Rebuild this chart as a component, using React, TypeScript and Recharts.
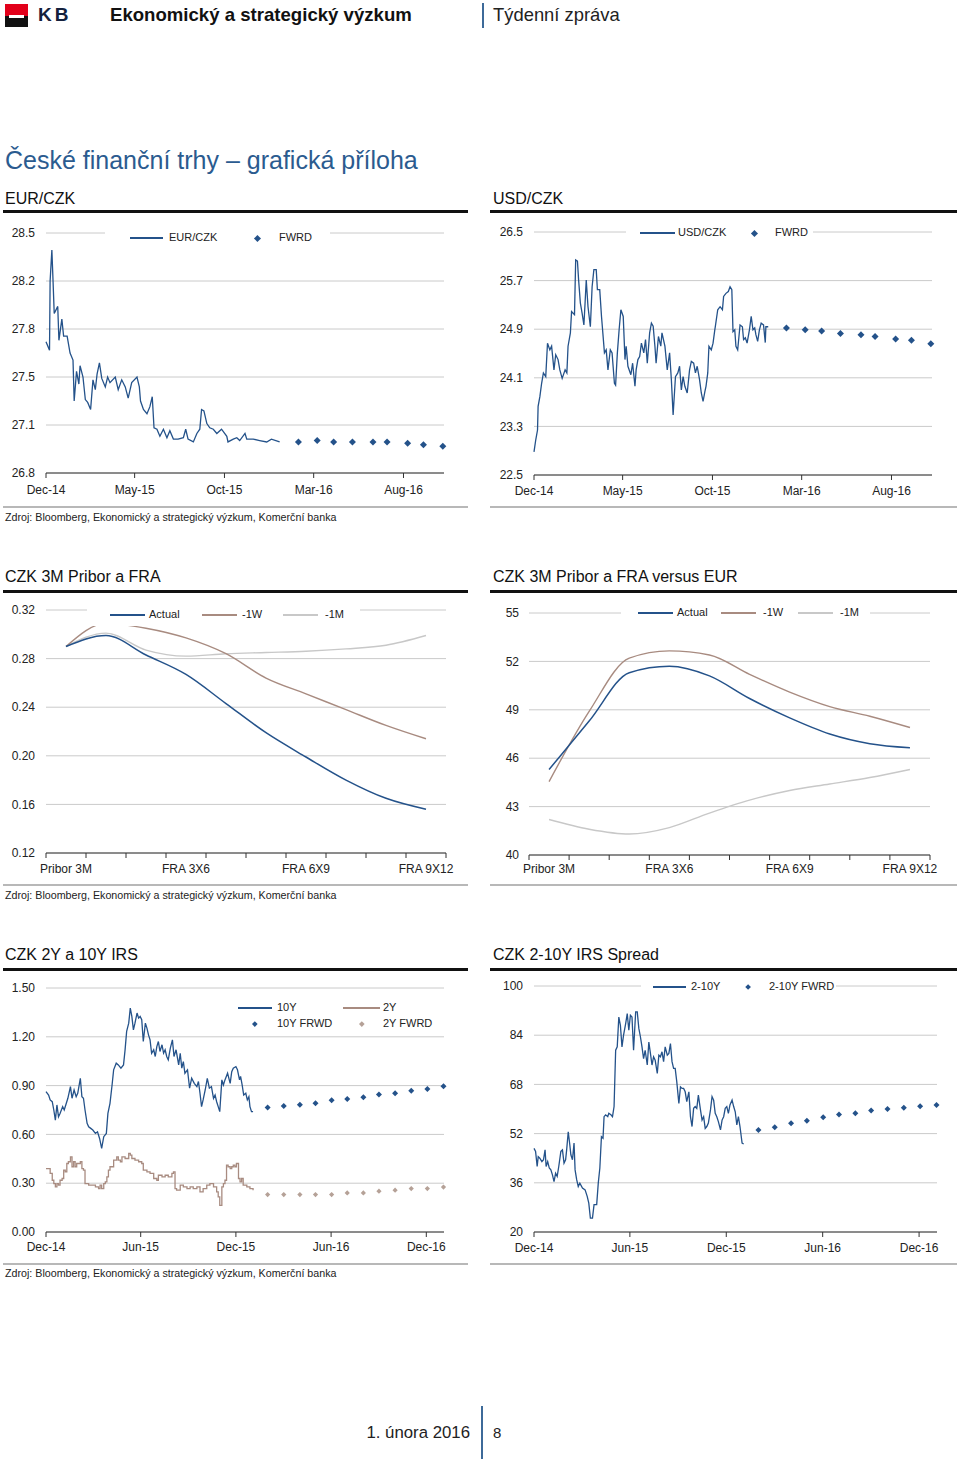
import React from "react";
import { ComposedChart, LineChart, Line, XAxis, YAxis, CartesianGrid } from "recharts";

type Pt = [number, number];

const NAVY = "#24528a";
const BROWN = "#a88b80";
const LIGHT = "#c8c8c8";
const GRID = "#cacaca";
const TAN = "#b5a197";
const INK = "#222";
const FONT = '"Liberation Sans", Arial, Helvetica, sans-serif';

// x = days since 1 Dec 2014
const fxTickDays = [0, 151, 304, 456, 609];
const fxTickLabels = ["Dec-14", "May-15", "Oct-15", "Mar-16", "Aug-16"];
const fxFwdDays = [430, 462, 490, 522, 557, 581, 616, 643, 676];

const eurTicks = [26.8, 27.14, 27.48, 27.82, 28.16, 28.5];
const eurczk: Pt[] = [
  [0, 27.73], [6, 27.67], [7, 28.16], [10, 28.38], [12, 28.16], [14, 27.93], [20, 27.98], [22, 27.74],
  [27, 27.89], [30, 27.77], [36, 27.77], [41, 27.65], [46, 27.6], [48, 27.31], [52, 27.52], [56, 27.43],
  [58, 27.56], [63, 27.48], [67, 27.32], [71, 27.3], [76, 27.25], [80, 27.46], [84, 27.39], [87, 27.5],
  [91, 27.58], [95, 27.47], [101, 27.41], [105, 27.48], [109, 27.44], [118, 27.48], [123, 27.39],
  [129, 27.46], [135, 27.41], [140, 27.33], [146, 27.44], [155, 27.48], [159, 27.41], [161, 27.31],
  [166, 27.25], [172, 27.22], [177, 27.27], [181, 27.34], [184, 27.12], [189, 27.11], [194, 27.06],
  [200, 27.11], [206, 27.05], [211, 27.1], [217, 27.04], [225, 27.04], [234, 27.05], [238, 27.11],
  [242, 27.04], [251, 27.02], [257, 27.08], [262, 27.11], [265, 27.25], [269, 27.24], [274, 27.15],
  [279, 27.12], [285, 27.11], [291, 27.08], [299, 27.11], [308, 27.06], [310, 27.02], [319, 27.04],
  [325, 27.05], [330, 27.03], [339, 27.08], [342, 27.04], [353, 27.04], [364, 27.03], [376, 27.02],
  [384, 27.04], [398, 27.02],
];
const eurczkFwd = [27.02, 27.03, 27.02, 27.02, 27.02, 27.02, 27.01, 27.0, 26.99];

const usdTicks = [22.5, 23.3, 24.1, 24.9, 25.7, 26.5];
const usdczk: Pt[] = [
  [0, 22.88], [3, 23.08], [6, 23.24], [7, 23.63], [10, 23.79], [13, 24.01], [16, 24.18], [20, 24.12],
  [23, 24.67], [27, 24.56], [30, 24.62], [34, 24.23], [37, 24.48], [41, 24.4], [44, 24.23], [48, 24.09],
  [53, 24.23], [56, 24.18], [58, 24.62], [62, 24.84], [64, 25.19], [69, 25.14], [71, 26.04], [74, 26.02],
  [76, 25.71], [79, 25.33], [82, 25.16], [85, 24.97], [87, 25.33], [89, 25.71], [92, 25.27], [96, 24.94],
  [99, 25.6], [102, 25.88], [106, 25.88], [108, 25.55], [112, 25.55], [115, 25.11], [120, 24.51],
  [123, 24.56], [126, 24.23], [130, 24.56], [133, 24.51], [137, 24.01], [139, 23.98], [142, 24.51],
  [145, 24.89], [148, 25.22], [152, 25.11], [155, 24.4], [157, 24.62], [160, 24.29], [165, 24.15],
  [168, 24.34], [172, 23.96], [174, 24.23], [177, 24.4], [180, 24.45], [183, 24.67], [187, 24.51],
  [190, 24.73], [193, 24.34], [197, 24.84], [200, 25.0], [203, 24.95], [206, 24.62], [208, 24.34],
  [212, 24.78], [216, 24.62], [218, 24.84], [223, 24.62], [227, 24.23], [231, 24.51], [234, 24.07],
  [237, 23.49], [241, 24.12], [245, 24.18], [248, 24.29], [251, 23.9], [254, 24.12], [257, 23.96],
  [261, 23.85], [265, 24.23], [268, 24.37], [272, 24.34], [275, 24.18], [278, 24.29], [282, 24.07],
  [285, 23.85], [288, 23.71], [291, 23.87], [293, 23.96], [296, 24.18], [298, 24.62], [302, 24.56],
  [305, 24.67], [308, 24.89], [309, 24.95], [313, 25.22], [317, 25.27], [321, 25.22], [323, 25.44],
  [327, 25.49], [331, 25.52], [334, 25.6], [337, 25.55], [339, 24.86], [342, 24.89], [344, 24.62],
  [347, 24.56], [351, 24.97], [355, 24.94], [357, 24.73], [360, 24.76], [363, 24.67], [367, 24.89],
  [370, 25.11], [373, 24.89], [376, 24.92], [378, 24.81], [381, 24.7], [384, 24.89], [387, 25.0],
  [391, 24.97], [394, 24.68], [395, 24.94], [399, 24.94],
];
const usdczkFwd = [24.92, 24.89, 24.87, 24.83, 24.81, 24.78, 24.74, 24.72, 24.66];

const fraCategories = [
  "Pribor 3M", "FRA 1X4", "FRA 2X5", "FRA 3X6", "FRA 4X7",
  "FRA 5X8", "FRA 6X9", "FRA 7X10", "FRA 8X11", "FRA 9X12",
];
const fraLabelIdx = [0, 3, 6, 9];
const fraTicks = [0.12, 0.16, 0.2, 0.24, 0.28, 0.32];
const fraActual = [0.29, 0.299, 0.283, 0.267, 0.243, 0.219, 0.199, 0.18, 0.165, 0.156];
const fra1W = [0.29, 0.309, 0.305, 0.297, 0.284, 0.264, 0.251, 0.238, 0.225, 0.214];
const fra1M = [0.29, 0.301, 0.287, 0.282, 0.284, 0.285, 0.286, 0.288, 0.291, 0.299];

const eurDiffTicks = [40, 43, 46, 49, 52, 55];
const eurDiffActual = [45.3, 48.3, 51.3, 51.7, 51.1, 49.7, 48.5, 47.5, 46.9, 46.65];
const eurDiff1W = [44.55, 48.9, 52.2, 52.65, 52.4, 51.2, 50.1, 49.2, 48.6, 47.9];
const eurDiff1M = [42.2, 41.6, 41.3, 41.7, 42.6, 43.4, 44.0, 44.4, 44.8, 45.3];

const irsTickDays = [0, 182, 365, 548, 731];
const irsTickLabels = ["Dec-14", "Jun-15", "Dec-15", "Jun-16", "Dec-16"];
const irsFwdDays = [426, 457, 488, 518, 549, 579, 610, 640, 671, 702, 733, 764];

const irsTicks = [0, 0.3, 0.6, 0.9, 1.2, 1.5];
const irs10y: Pt[] = [
  [0, 0.863], [5, 0.842], [8, 0.812], [12, 0.801], [15, 0.75], [18, 0.688], [21, 0.781], [24, 0.709],
  [27, 0.729], [32, 0.771], [35, 0.75], [38, 0.781], [42, 0.822], [47, 0.894], [50, 0.822], [54, 0.873],
  [58, 0.832], [61, 0.853], [66, 0.945], [69, 0.832], [72, 0.822], [75, 0.75], [79, 0.668], [82, 0.647],
  [86, 0.637], [90, 0.627], [95, 0.606], [99, 0.616], [103, 0.575], [107, 0.514], [111, 0.586],
  [116, 0.606], [119, 0.729], [123, 0.791], [127, 0.904], [130, 0.997], [135, 1.038], [139, 1.027],
  [144, 1.007], [149, 1.027], [152, 1.12], [155, 1.233], [159, 1.284], [162, 1.377], [165, 1.325],
  [168, 1.243], [171, 1.284], [175, 1.346], [178, 1.315], [181, 1.325], [184, 1.305], [187, 1.171],
  [191, 1.284], [194, 1.253], [197, 1.212], [200, 1.181], [203, 1.099], [207, 1.12], [210, 1.079],
  [213, 1.14], [216, 1.171], [219, 1.11], [223, 1.151], [226, 1.099], [229, 1.12], [232, 1.079],
  [235, 1.058], [239, 1.13], [243, 1.181], [246, 1.079], [250, 1.12], [255, 1.027], [258, 1.099],
  [261, 1.007], [264, 1.048], [267, 0.976], [272, 0.997], [276, 0.884], [280, 0.945], [285, 0.914],
  [290, 0.894], [293, 0.925], [296, 0.853], [299, 0.771], [302, 0.812], [306, 0.873], [310, 0.945],
  [314, 0.884], [318, 0.894], [322, 0.822], [325, 0.842], [328, 0.801], [331, 0.771], [334, 0.74],
  [338, 0.935], [341, 0.904], [344, 0.935], [349, 0.976], [354, 0.914], [357, 0.986], [360, 1.007],
  [365, 1.017], [368, 0.997], [372, 0.935], [374, 0.956], [377, 0.904], [380, 0.842], [384, 0.853],
  [387, 0.812], [390, 0.832], [392, 0.771], [395, 0.74], [398, 0.74],
];
const irs2y: Pt[] = [
  [0, 0.39], [5, 0.39], [8, 0.36], [12, 0.318], [15, 0.298], [18, 0.277], [21, 0.298], [24, 0.288],
  [27, 0.318], [31, 0.329], [34, 0.38], [37, 0.37], [40, 0.421], [43, 0.432], [47, 0.462], [50, 0.401],
  [53, 0.432], [56, 0.401], [59, 0.421], [63, 0.421], [66, 0.432], [69, 0.39], [72, 0.38], [75, 0.298],
  [82, 0.288], [88, 0.288], [95, 0.277], [101, 0.267], [104, 0.288], [107, 0.267], [111, 0.298],
  [114, 0.308], [117, 0.339], [120, 0.38], [123, 0.401], [130, 0.442], [136, 0.462], [139, 0.442],
  [143, 0.432], [146, 0.462], [152, 0.452], [159, 0.483], [162, 0.473], [165, 0.452], [171, 0.442],
  [178, 0.432], [184, 0.421], [187, 0.38], [194, 0.37], [200, 0.36], [207, 0.329], [213, 0.318],
  [216, 0.349], [223, 0.339], [229, 0.349], [235, 0.339], [242, 0.36], [245, 0.37], [248, 0.267],
  [251, 0.257], [258, 0.288], [264, 0.277], [271, 0.267], [277, 0.277], [283, 0.267], [290, 0.277],
  [296, 0.247], [302, 0.267], [309, 0.288], [315, 0.298], [322, 0.277], [328, 0.247], [331, 0.216],
  [334, 0.164], [338, 0.277], [341, 0.298], [344, 0.318], [347, 0.411], [350, 0.401], [354, 0.39],
  [357, 0.401], [360, 0.411], [363, 0.401], [366, 0.421], [370, 0.329], [373, 0.308], [376, 0.329],
  [379, 0.288], [386, 0.277], [392, 0.267], [398, 0.257],
];
const irs10yFwd = [0.766, 0.775, 0.783, 0.791, 0.81, 0.818, 0.828, 0.845, 0.853, 0.869, 0.879, 0.896];
const irs2yFwd = [0.23, 0.23, 0.23, 0.23, 0.23, 0.24, 0.24, 0.251, 0.257, 0.267, 0.267, 0.276];

const spreadTicks = [20, 36, 52, 68, 84, 100];
const spread: Pt[] = [
  [0, 47.2], [3, 46.2], [6, 41.3], [8, 44.5], [11, 44.0], [15, 42.9], [18, 43.5], [21, 46.7], [23, 41.3],
  [26, 42.9], [29, 40.8], [32, 40.2], [35, 38.6], [38, 36.4], [41, 39.1], [44, 38.1], [47, 41.3],
  [51, 46.2], [54, 46.7], [57, 42.4], [60, 43.5], [62, 46.7], [65, 52.6], [68, 48.3], [70, 45.1],
  [73, 43.5], [76, 48.9], [78, 40.2], [81, 37.0], [84, 34.8], [87, 35.9], [92, 34.3], [97, 33.7],
  [101, 31.6], [104, 29.4], [107, 24.5], [111, 24.5], [114, 28.9], [119, 28.9], [122, 35.9], [125, 40.8],
  [128, 51.0], [131, 50.5], [133, 57.5], [136, 58.1], [140, 57.5], [142, 58.6], [146, 58.1], [149, 57.5],
  [152, 60.8], [155, 79.1], [158, 80.2], [161, 89.9], [164, 87.2], [167, 80.2], [170, 84.0], [174, 87.8],
  [177, 91.0], [180, 85.6], [183, 90.5], [186, 89.9], [189, 79.1], [193, 91.6], [196, 91.6], [199, 86.2],
  [202, 83.5], [205, 80.2], [208, 76.4], [211, 79.1], [215, 74.3], [218, 81.8], [221, 78.1], [224, 74.3],
  [227, 77.0], [230, 75.9], [234, 71.6], [237, 77.5], [240, 77.0], [243, 78.6], [246, 75.4], [249, 80.2],
  [253, 77.5], [256, 78.1], [259, 81.3], [262, 75.4], [265, 73.2], [268, 73.2], [271, 68.9], [275, 61.8],
  [278, 67.2], [281, 66.7], [284, 66.7], [287, 65.6], [290, 62.4], [294, 65.6], [297, 57.5], [300, 54.3],
  [303, 60.2], [306, 60.8], [309, 60.2], [312, 64.5], [316, 59.7], [319, 56.4], [322, 57.5], [325, 53.7],
  [328, 54.3], [331, 55.4], [335, 59.7], [338, 64.0], [341, 62.9], [344, 58.6], [347, 57.5], [350, 55.9],
  [354, 53.2], [357, 56.4], [360, 57.5], [363, 60.2], [366, 60.8], [369, 58.6], [372, 61.3], [376, 62.9],
  [379, 60.8], [382, 59.1], [385, 54.8], [388, 57.5], [391, 54.3], [395, 48.9], [398, 48.6],
];
const spreadFwd = [53.2, 54.1, 55.4, 56.2, 57.3, 58.2, 58.6, 59.5, 60.0, 60.4, 60.9, 61.3];

const SOURCE = "Zdroj: Bloomberg, Ekonomický a strategický výzkum, Komerční banka";

const zip = (xs: number[], ys: number[]): Pt[] => xs.map((x, i) => [x, ys[i]]);

function mergeRows(series: Record<string, Pt[]>) {
  const map = new Map<number, any>();
  Object.entries(series).forEach(([key, pts]) => {
    pts.forEach(([d, v]) => {
      const row = map.get(d) ?? { d };
      row[key] = v;
      map.set(d, row);
    });
  });
  return Array.from(map.values()).sort((a, b) => a.d - b.d);
}

function diamondDot(color: string, r: number) {
  return (p: any) => {
    const k = `dm-${p.index}`;
    if (p.value == null || p.cx == null || p.cy == null || !isFinite(p.cy)) return <g key={k} />;
    const { cx, cy } = p;
    return (
      <path key={k} d={`M${cx},${cy - r}L${cx + r},${cy}L${cx},${cy + r}L${cx - r},${cy}Z`} fill={color} />
    );
  };
}

interface LineSpec { key: string; color: string; type?: any }
interface DotSpec { key: string; color: string; r: number }

function TimeChart(props: {
  box: number[];
  margin: any;
  yWidth: number;
  yTickMargin: number;
  yTicks: number[];
  yDigits: number;
  xDomain: number[];
  xTicks: number[];
  xLabels: string[];
  xTickMargin: number;
  rows: any[];
  lines: LineSpec[];
  dots: DotSpec[];
}) {
  const { box, yTicks, xTicks, xLabels } = props;
  return (
    <div style={{ position: "absolute", left: box[0], top: box[1] }}>
      <ComposedChart width={box[2]} height={box[3]} data={props.rows} margin={props.margin}>
        <CartesianGrid vertical={false} stroke={GRID} />
        <XAxis
          type="number"
          dataKey="d"
          domain={props.xDomain}
          ticks={xTicks}
          interval={0}
          tickFormatter={(v: number) => xLabels[xTicks.indexOf(v)] ?? ""}
          axisLine={{ stroke: "#333" }}
          tickLine={{ stroke: "#333" }}
          tickSize={5}
          tickMargin={props.xTickMargin}
          tick={{ fontSize: 12, fill: INK }}
          height={30}
        />
        <YAxis
          type="number"
          domain={[yTicks[0], yTicks[yTicks.length - 1]]}
          ticks={yTicks}
          interval={0}
          tickFormatter={(v: number) => v.toFixed(props.yDigits)}
          axisLine={false}
          tickLine={false}
          tickSize={0}
          tickMargin={props.yTickMargin}
          width={props.yWidth}
          tick={{ fontSize: 12, fill: INK }}
        />
        {props.lines.map((l) => (
          <Line
            key={l.key}
            dataKey={l.key}
            type={l.type ?? "linear"}
            stroke={l.color}
            strokeWidth={1.3}
            dot={false}
            activeDot={false}
            connectNulls
            isAnimationActive={false}
          />
        ))}
        {props.dots.map((s) => (
          <Line
            key={s.key}
            dataKey={s.key}
            stroke="none"
            dot={diamondDot(s.color, s.r)}
            activeDot={false}
            isAnimationActive={false}
          />
        ))}
      </ComposedChart>
    </div>
  );
}

function FraChart(props: {
  box: number[];
  margin: any;
  yWidth: number;
  yTickMargin: number;
  yTicks: number[];
  yDigits: number;
  labelMargin: number;
  actual: number[];
  w1: number[];
  m1: number[];
}) {
  const { box, yTicks } = props;
  const rows = fraCategories.map((c, i) => ({
    x: i + 0.5,
    c,
    actual: props.actual[i],
    w1: props.w1[i],
    m1: props.m1[i],
  }));
  const bounds = fraCategories.map((_, i) => i).concat([fraCategories.length]);
  return (
    <div style={{ position: "absolute", left: box[0], top: box[1] }}>
      <LineChart width={box[2]} height={box[3]} data={rows} margin={props.margin}>
        <CartesianGrid vertical={false} stroke={GRID} />
        <XAxis
          type="number"
          dataKey="x"
          domain={[0, fraCategories.length]}
          ticks={bounds}
          interval={0}
          tickFormatter={() => ""}
          axisLine={{ stroke: "#333" }}
          tickLine={{ stroke: "#333" }}
          tickSize={5}
          height={6}
        />
        <XAxis
          xAxisId="lbl"
          type="number"
          dataKey="x"
          domain={[0, fraCategories.length]}
          ticks={fraLabelIdx.map((i) => i + 0.5)}
          interval={0}
          tickFormatter={(v: number) => fraCategories[Math.floor(v)]}
          axisLine={false}
          tickLine={false}
          tickSize={0}
          tickMargin={props.labelMargin}
          tick={{ fontSize: 12, fill: INK }}
          height={24}
        />
        <YAxis
          type="number"
          domain={[yTicks[0], yTicks[yTicks.length - 1]]}
          ticks={yTicks}
          interval={0}
          tickFormatter={(v: number) => v.toFixed(props.yDigits)}
          axisLine={false}
          tickLine={false}
          tickSize={0}
          tickMargin={props.yTickMargin}
          width={props.yWidth}
          tick={{ fontSize: 12, fill: INK }}
        />
        <Line dataKey="m1" type="monotone" stroke={LIGHT} strokeWidth={1.4} dot={false} activeDot={false} isAnimationActive={false} />
        <Line dataKey="w1" type="monotone" stroke={BROWN} strokeWidth={1.4} dot={false} activeDot={false} isAnimationActive={false} />
        <Line dataKey="actual" type="monotone" stroke={NAVY} strokeWidth={1.5} dot={false} activeDot={false} isAnimationActive={false} />
      </LineChart>
    </div>
  );
}

function Txt({ x, y, size, children, style }: any) {
  return (
    <div
      style={{
        position: "absolute",
        left: x,
        top: y - size * 0.6,
        fontSize: size,
        lineHeight: `${size * 1.2}px`,
        whiteSpace: "nowrap",
        color: INK,
        ...style,
      }}
    >
      {children}
    </div>
  );
}

function Rect({ x, y, w, h, color }: any) {
  return <div style={{ position: "absolute", left: x, top: y, width: w, height: h, background: color }} />;
}

function LegendLine({ x1, x2, y, color, label, tx }: any) {
  return (
    <>
      <Rect x={x1} y={y - 1} w={x2 - x1} h={2} color={color} />
      <Txt x={tx} y={y} size={11}>{label}</Txt>
    </>
  );
}

function LegendDiamond({ cx, y, r, color, label, tx }: any) {
  return (
    <>
      <div
        style={{
          position: "absolute",
          left: cx - r * 0.7,
          top: y - r * 0.7,
          width: r * 1.4,
          height: r * 1.4,
          background: color,
          transform: "rotate(45deg)",
        }}
      />
      <Txt x={tx} y={y} size={11}>{label}</Txt>
    </>
  );
}

function ChartTitle({ x, y, text, ruleX, ruleW, ruleY }: any) {
  return (
    <>
      <Txt x={x} y={y} size={16} style={{ color: "#111" }}>{text}</Txt>
      <Rect x={ruleX} y={ruleY} w={ruleW} h={3} color="#111" />
    </>
  );
}

export default function App() {
  const eurRows = mergeRows({ hist: eurczk, fwd: zip(fxFwdDays, eurczkFwd) });
  const usdRows = mergeRows({ hist: usdczk, fwd: zip(fxFwdDays, usdczkFwd) });
  const irsRows = mergeRows({
    y10: irs10y,
    y2: irs2y,
    y10f: zip(irsFwdDays, irs10yFwd),
    y2f: zip(irsFwdDays, irs2yFwd),
  });
  const spreadRows = mergeRows({ hist: spread, fwd: zip(irsFwdDays, spreadFwd) });

  return (
    <div
      style={{
        position: "absolute",
        left: 0,
        top: 0,
        width: 960,
        height: 1461,
        background: "#fff",
        fontFamily: FONT,
        overflow: "hidden",
      }}
    >
      {/* header */}
      <Rect x={5} y={4} w={23} h={12} color="#e2001a" />
      <Rect x={5} y={16} w={23} h={11} color="#111" />
      <Rect x={9} y={15} w={15} h={3} color="#fff" />
      <Txt x={38} y={15} size={19} style={{ fontWeight: 700, letterSpacing: 3, color: "#14213d" }}>KB</Txt>
      <Txt x={110} y={15} size={18.6} style={{ fontWeight: 700, color: "#111" }}>Ekonomický a strategický výzkum</Txt>
      <Rect x={482} y={3} w={2} h={25} color="#3d6a99" />
      <Txt x={493} y={15} size={18.4}>Týdenní zpráva</Txt>

      <Txt x={5} y={160} size={25} style={{ color: "#2b5b8f" }}>České finanční trhy – grafická příloha</Txt>

      {/* row 1 */}
      <ChartTitle x={5} y={199} text="EUR/CZK" ruleX={3} ruleW={465} ruleY={210} />
      <ChartTitle x={493} y={199} text="USD/CZK" ruleX={490} ruleW={467} ruleY={210} />
      <TimeChart
        box={[0, 220, 470, 290]}
        margin={{ top: 13, right: 26, bottom: 7, left: 0 }}
        yWidth={46}
        yTickMargin={11}
        yTicks={eurTicks}
        yDigits={1}
        xDomain={[0, 678]}
        xTicks={fxTickDays}
        xLabels={fxTickLabels}
        xTickMargin={7}
        rows={eurRows}
        lines={[{ key: "hist", color: NAVY }]}
        dots={[{ key: "fwd", color: NAVY, r: 3.5 }]}
      />
      <TimeChart
        box={[488, 220, 470, 290]}
        margin={{ top: 12, right: 26, bottom: 5, left: 0 }}
        yWidth={46}
        yTickMargin={11}
        yTicks={usdTicks}
        yDigits={1}
        xDomain={[0, 678]}
        xTicks={fxTickDays}
        xLabels={fxTickLabels}
        xTickMargin={6}
        rows={usdRows}
        lines={[{ key: "hist", color: NAVY }]}
        dots={[{ key: "fwd", color: NAVY, r: 3.5 }]}
      />
      <Rect x={105} y={229} w={225} h={17} color="#fff" />
      <LegendLine x1={130} x2={163} y={238} color={NAVY} label="EUR/CZK" tx={169} />
      <LegendDiamond cx={257} y={238} r={3.5} color={NAVY} label="FWRD" tx={279} />
      <Rect x={626} y={226} w={187} h={16} color="#fff" />
      <LegendLine x1={640} x2={675} y={233} color={NAVY} label="USD/CZK" tx={678} />
      <LegendDiamond cx={754} y={233} r={3.5} color={NAVY} label="FWRD" tx={775} />
      <Rect x={3} y={506} w={465} h={1.5} color="#b8b8b8" />
      <Rect x={490} y={506} w={467} h={1.5} color="#b8b8b8" />
      <Txt x={5} y={517} size={10.7}>{SOURCE}</Txt>

      {/* row 2 */}
      <ChartTitle x={5} y={577} text="CZK 3M Pribor a FRA" ruleX={3} ruleW={465} ruleY={590} />
      <ChartTitle x={493} y={577} text="CZK 3M Pribor a FRA versus EUR" ruleX={490} ruleW={467} ruleY={590} />
      <FraChart
        box={[0, 600, 470, 290]}
        margin={{ top: 10, right: 24, bottom: 7, left: 0 }}
        yWidth={46}
        yTickMargin={11}
        yTicks={fraTicks}
        yDigits={2}
        labelMargin={5}
        actual={fraActual}
        w1={fra1W}
        m1={fra1M}
      />
      <FraChart
        box={[488, 600, 470, 290]}
        margin={{ top: 13, right: 28, bottom: 5, left: 0 }}
        yWidth={41}
        yTickMargin={10}
        yTicks={eurDiffTicks}
        yDigits={0}
        labelMargin={3}
        actual={eurDiffActual}
        w1={eurDiff1W}
        m1={eurDiff1M}
      />
      <Rect x={87} y={603} w={273} h={23} color="#fff" />
      <LegendLine x1={110} x2={145} y={615} color={NAVY} label="Actual" tx={149} />
      <LegendLine x1={202} x2={237} y={615} color={BROWN} label="-1W" tx={242} />
      <LegendLine x1={283} x2={318} y={615} color={LIGHT} label="-1M" tx={325} />
      <Rect x={621} y={605} w={249} h={16} color="#fff" />
      <LegendLine x1={638} x2={673} y={613} color={NAVY} label="Actual" tx={677} />
      <LegendLine x1={721} x2={756} y={613} color={BROWN} label="-1W" tx={763} />
      <LegendLine x1={798} x2={833} y={613} color={LIGHT} label="-1M" tx={840} />
      <Rect x={3} y={884} w={465} h={1.5} color="#b8b8b8" />
      <Rect x={490} y={884} w={467} h={1.5} color="#b8b8b8" />
      <Txt x={5} y={895} size={10.7}>{SOURCE}</Txt>

      {/* row 3 */}
      <ChartTitle x={5} y={955} text="CZK 2Y a 10Y IRS" ruleX={3} ruleW={465} ruleY={968} />
      <ChartTitle x={493} y={955} text="CZK 2-10Y IRS Spread" ruleX={490} ruleW={467} ruleY={968} />
      <TimeChart
        box={[0, 975, 470, 290]}
        margin={{ top: 13, right: 26, bottom: 3, left: 0 }}
        yWidth={46}
        yTickMargin={11}
        yTicks={irsTicks}
        yDigits={2}
        xDomain={[0, 765]}
        xTicks={irsTickDays}
        xLabels={irsTickLabels}
        xTickMargin={5}
        rows={irsRows}
        lines={[
          { key: "y2", color: BROWN, type: "stepAfter" },
          { key: "y10", color: NAVY },
        ]}
        dots={[
          { key: "y10f", color: NAVY, r: 3 },
          { key: "y2f", color: TAN, r: 2.6 },
        ]}
      />
      <TimeChart
        box={[488, 975, 470, 290]}
        margin={{ top: 11, right: 21, bottom: 3, left: 0 }}
        yWidth={46}
        yTickMargin={11}
        yTicks={spreadTicks}
        yDigits={0}
        xDomain={[0, 765]}
        xTicks={irsTickDays}
        xLabels={irsTickLabels}
        xTickMargin={6}
        rows={spreadRows}
        lines={[{ key: "hist", color: NAVY }]}
        dots={[{ key: "fwd", color: NAVY, r: 3 }]}
      />
      <LegendLine x1={238} x2={272} y={1008} color={NAVY} label="10Y" tx={277} />
      <LegendLine x1={343} x2={380} y={1008} color={BROWN} label="2Y" tx={383} />
      <LegendDiamond cx={255} y={1024} r={2.6} color={NAVY} label="10Y FRWD" tx={277} />
      <LegendDiamond cx={362} y={1024} r={2.6} color={TAN} label="2Y FWRD" tx={383} />
      <Rect x={641} y={979} w={195} h={16} color="#fff" />
      <LegendLine x1={653} x2={686} y={987} color={NAVY} label="2-10Y" tx={691} />
      <LegendDiamond cx={748} y={987} r={3} color={NAVY} label="2-10Y FWRD" tx={769} />
      <Rect x={3} y={1263} w={465} h={1.5} color="#b8b8b8" />
      <Rect x={490} y={1263} w={467} h={1.5} color="#b8b8b8" />
      <Txt x={5} y={1273} size={10.7}>{SOURCE}</Txt>

      {/* footer */}
      <div
        style={{
          position: "absolute",
          right: 960 - 470,
          top: 1433 - 10,
          fontSize: 16.8,
          lineHeight: "20px",
          color: INK,
          whiteSpace: "nowrap",
        }}
      >
        1. února 2016
      </div>
      <Rect x={481} y={1406} w={2} h={53} color="#3d6a99" />
      <Txt x={493} y={1433} size={15}>8</Txt>
    </div>
  );
}
